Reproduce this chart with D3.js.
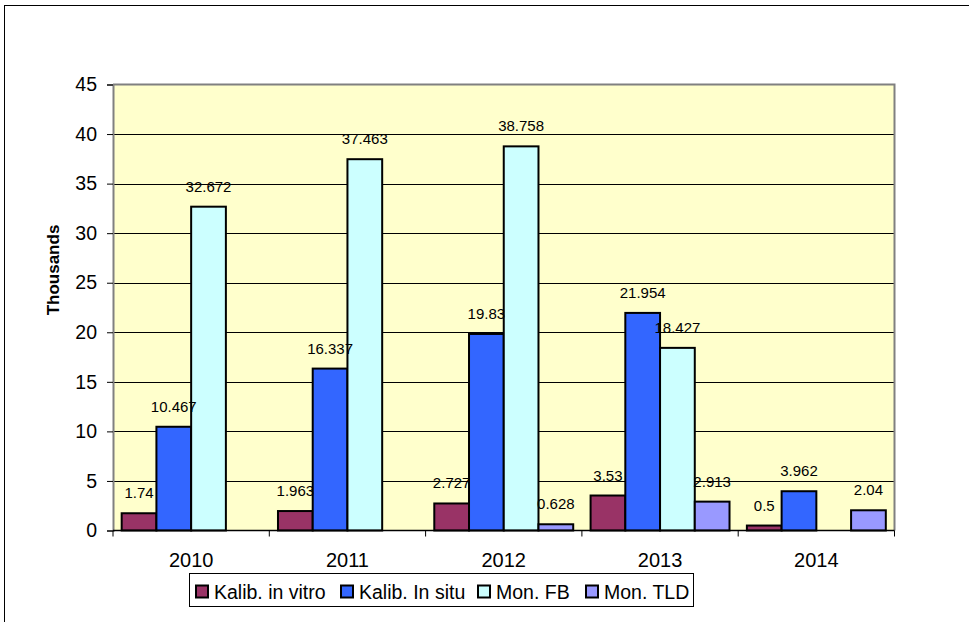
<!DOCTYPE html>
<html>
<head>
<meta charset="utf-8">
<script src="https://cdn.jsdelivr.net/npm/d3@7"></script>
<style>
  html, body { margin: 0; padding: 0; background: #fff; }
  svg { display: block; font-family: Arial, "Liberation Sans", sans-serif; }
</style>
</head>
<body>
<svg id="chart" width="969" height="622"></svg>
<script>
// Yearly counts (in thousands) per service line
const years = ["2010", "2011", "2012", "2013", "2014"];
const seriesNames = ["Kalib. in vitro", "Kalib. In situ", "Mon. FB", "Mon. TLD"];
const kalibInVitro = [1.74, 1.963, 2.727, 3.53, 0.5];
const kalibInSitu  = [10.467, 16.337, 19.83, 21.954, 3.962];
const monFB        = [32.672, 37.463, 38.758, 18.427, null];
const monTLD       = [null, null, 0.628, 2.913, 2.04];
const yTicks = [0, 5, 10, 15, 20, 25, 30, 35, 40, 45];
const colors = ["#993366", "#3366FF", "#CCFFFF", "#9999FF"];

const seriesValues = [kalibInVitro, kalibInSitu, monFB, monTLD];

const svg = d3.select("#chart");
const plot = { left: 113, right: 894.5, top: 84.5, bottom: 530.5 };

// Outer chart frame (continues past the right and bottom edges)
svg.append("rect")
  .attr("x", 4.5).attr("y", 5.5)
  .attr("width", 1000).attr("height", 1000)
  .attr("fill", "none").attr("stroke", "#000").attr("stroke-width", 1);

const x0 = d3.scaleBand().domain(years).range([plot.left, plot.right]).padding(0);
const pad = x0.bandwidth() * 0.25 / 4.5;
const x1 = d3.scaleBand().domain(seriesNames).range([pad, x0.bandwidth() - pad]).padding(0);
const y = d3.scaleLinear().domain([0, 45]).range([plot.bottom, plot.top]);

// Plot background
svg.append("rect")
  .attr("x", plot.left).attr("y", plot.top)
  .attr("width", plot.right - plot.left).attr("height", plot.bottom - plot.top)
  .attr("fill", "#FFFFCC");

// Horizontal gridlines
svg.append("g")
  .selectAll("line")
  .data(yTicks.filter(d => d > 0 && d < 45))
  .join("line")
  .attr("x1", plot.left).attr("x2", plot.right)
  .attr("y1", d => Math.round(y(d)) + 0.5).attr("y2", d => Math.round(y(d)) + 0.5)
  .attr("stroke", "#000").attr("stroke-width", 1);

// Plot border: top and right in grey
svg.append("path")
  .attr("d", `M${plot.left},${plot.top}H${plot.right}V${plot.bottom}`)
  .attr("fill", "none").attr("stroke", "#808080").attr("stroke-width", 2);

// Bars
const groups = svg.append("g")
  .selectAll("g")
  .data(years)
  .join("g")
  .attr("transform", d => `translate(${x0(d)},0)`);

const barData = (yr, i) => seriesNames.map((s, k) => ({ s, k, v: seriesValues[k][i] })).filter(d => d.v != null);

groups.selectAll("rect")
  .data((yr, i) => barData(yr, i))
  .join("rect")
  .attr("x", d => x1(d.s))
  .attr("y", d => y(d.v))
  .attr("width", x1.bandwidth())
  .attr("height", d => y(0) - y(d.v))
  .attr("fill", d => colors[d.k])
  .attr("stroke", "#000").attr("stroke-width", 2);

// Value labels
groups.selectAll("text")
  .data((yr, i) => barData(yr, i))
  .join("text")
  .attr("x", d => x1(d.s) + x1.bandwidth() / 2)
  .attr("y", d => y(d.v) - 15)
  .attr("text-anchor", "middle")
  .attr("font-size", 15)
  .attr("fill", "#000")
  .text(d => d.v);

// Y axis
const yAxis = d3.axisLeft(y).tickValues(yTicks).tickSize(6).tickPadding(10).tickFormat(d3.format("d"));
const gy = svg.append("g").attr("transform", `translate(${plot.left},0)`).call(yAxis);
gy.select(".domain").attr("stroke", "#808080").attr("stroke-width", 2);
gy.selectAll(".tick line").attr("stroke", "#000");
gy.selectAll(".tick text").attr("font-size", 19.5).attr("font-family", "Arial, 'Liberation Sans', sans-serif").attr("fill", "#000");

// X axis: ticks at category boundaries
const gx = svg.append("g").attr("transform", `translate(0,${plot.bottom})`);
gx.append("line")
  .attr("x1", plot.left).attr("x2", plot.right)
  .attr("stroke", "#000").attr("stroke-width", 1.5);
const boundaries = years.map(d => x0(d)).concat([x0(years[years.length - 1]) + x0.bandwidth()]);
gx.selectAll("line.tick")
  .data(boundaries)
  .join("line")
  .attr("class", "tick")
  .attr("x1", d => d).attr("x2", d => d)
  .attr("y1", 0).attr("y2", 6)
  .attr("stroke", "#000");
gx.selectAll("text")
  .data(years)
  .join("text")
  .attr("x", d => x0(d) + x0.bandwidth() / 2)
  .attr("y", 36.5)
  .attr("text-anchor", "middle")
  .attr("font-size", 20)
  .text(d => d);

// Y axis title
svg.append("text")
  .attr("transform", "translate(58.5,270) rotate(-90)")
  .attr("text-anchor", "middle")
  .attr("font-size", 17)
  .attr("font-weight", "bold")
  .text("Thousands");

// Legend
const legend = svg.append("g");
legend.append("rect")
  .attr("x", 189.5).attr("y", 573.5)
  .attr("width", 504).attr("height", 33)
  .attr("fill", "#fff").attr("stroke", "#000");
const legendX = [196, 341, 478, 586];
const items = legend.selectAll("g.item")
  .data(seriesNames)
  .join("g")
  .attr("class", "item")
  .attr("transform", (d, i) => `translate(${legendX[i]},591.5)`);
items.append("rect")
  .attr("x", 0).attr("y", -6).attr("width", 12).attr("height", 12)
  .attr("fill", (d, i) => colors[i]).attr("stroke", "#000").attr("stroke-width", 2);
items.append("text")
  .attr("x", 18).attr("y", 7)
  .attr("font-size", 19.5)
  .text(d => d);
</script>
</body>
</html>
